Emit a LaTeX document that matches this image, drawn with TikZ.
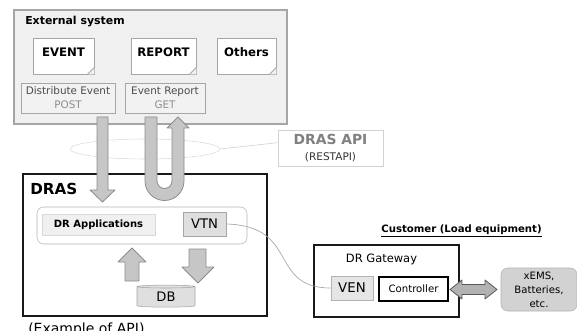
\documentclass[tikz,border=0pt]{standalone}
\usepackage{fontspec}
\setmainfont{DejaVu Sans}
\usetikzlibrary{shapes.geometric}

\tikzset{
  box/.style={draw, rectangle, inner sep=0pt, align=center},
  paper/.style={box, draw=gray!70, fill=white, text depth=6pt, font=\bfseries\fontsize{8.8}{10.5}\selectfont},
  apibox/.style={box, fill=gray!10, draw=gray!70, minimum height=22.5pt, font=\fontsize{7.8}{10.5}\selectfont},
  fatarrow/.style={fill=gray!45, draw=gray!90, line width=0.6pt, line join=round},
  frame/.style={box, draw=black!90, line width=1.5pt},
}

\begin{document}
\begin{tikzpicture}[x=0.75pt, y=-0.75pt]
    \useasboundingbox (0,0) rectangle (577,331);
    % External system
    \node[box, draw=gray!70, fill=gray!12, line width=1.5pt, minimum width=204.75pt, minimum height=85.5pt] (ext) at (150.5,67) {};
    \node[anchor=west, inner sep=0pt, font=\bfseries\fontsize{8.2}{10}\selectfont] (extlabel) at (25,22) {External system};
    \node[paper, minimum width=45.75pt, minimum height=27pt] (event) at (63.5,56) {EVENT};
    \node[paper, minimum width=48.75pt, minimum height=27pt] (report) at (163.5,56) {REPORT};
    \node[paper, minimum width=44.25pt, minimum height=27pt] (others) at (246.5,56) {Others};
    \foreach \n in {event,report,others} {
        \fill[gray!12] (\n.south east) -- ([yshift=5pt]\n.south east) -- ([xshift=-5pt]\n.south east) -- cycle;
        \draw[gray!70] ([yshift=5pt]\n.south east) -- ([xshift=-5pt]\n.south east);
        \draw[gray!70] ([yshift=5pt]\n.south east) -- ([xshift=-3.5pt,yshift=1.5pt]\n.south east) -- ([xshift=-5pt]\n.south east);
    }
    \node[apibox, minimum width=70.5pt] (post) at (68,98) {\textcolor{black!70}{Distribute Event}\\\textcolor{black!45}{POST}};
    \node[apibox, minimum width=60pt] (get) at (165,98) {\textcolor{black!70}{Event Report}\\\textcolor{black!45}{GET}};
    % DRAS API
    \node[ellipse, draw=gray!30, minimum width=112.5pt, minimum height=15pt, inner sep=0pt] (ring) at (145,149) {};
    \node[box, draw=gray!35, fill=white, minimum width=78.75pt, minimum height=27pt] (api) at (330.5,148)
        {{\bfseries\fontsize{10.4}{11.25}\selectfont\textcolor{black!50}{DRAS API}}\\{\fontsize{7.9}{11.25}\selectfont\textcolor{black!80}{(RESTAPI)}}};
    \draw[gray!40] (ring.east) -- ([yshift=4pt]api.west);
    % DRAS
    \node[frame, minimum width=183pt, minimum height=106.5pt] (dras) at (145,245) {};
    \node[anchor=west, inner sep=0pt, font=\bfseries\fontsize{11.4}{13}\selectfont] (draslabel) at (30,189) {DRAS};
    \node[box, draw=gray!60, rounded corners=5pt, minimum width=157.5pt, minimum height=27.75pt] (core) at (142,225.5) {};
    \node[box, fill=gray!12, draw=gray!30, minimum width=84.75pt, minimum height=15.75pt, font=\bfseries\fontsize{7.5}{9}\selectfont] (apps) at (98.5,224.5) {DR Applications};
    \node[box, fill=gray!25, draw=gray!70, minimum width=32.25pt, minimum height=18pt, font=\fontsize{9.9}{11}\selectfont] (vtn) at (204.5,224) {VTN};
    \node[cylinder, shape border rotate=90, aspect=0.15, draw=gray!70, fill=gray!25, minimum width=43.5pt, minimum height=16.5pt, inner sep=0pt, font=\fontsize{9.8}{11}\selectfont] (db) at (166,297) {DB};
    % Fat arrows
    \draw[fatarrow] (97,117) -- (97,190) -- (90,190) -- (102.5,202) -- (115,190) -- (108,190) -- (108,117) -- cycle;
    \draw[fatarrow] (145,117) -- (145,181) arc[start angle=180, end angle=0, radius=19.5] -- (184,128) -- (189,128) -- (178,117)
        -- (167,128) -- (172,128) -- (172,181) arc[start angle=0, end angle=180, radius=7.5] -- (157,117) -- cycle;
    \draw[fatarrow] (125,281) -- (125,262) -- (118,262) -- (132,248) -- (146,262) -- (139,262) -- (139,281) -- cycle;
    \draw[fatarrow] (189,249) -- (189,267) -- (182,267) -- (198,283) -- (214,267) -- (206,267) -- (206,249) -- cycle;
    % Customer
    \node[font=\bfseries\fontsize{7.6}{9}\selectfont, inner sep=0pt] (custlabel) at (461.5,231) {\underline{Customer (Load equipment)}};
    \node[frame, minimum width=108.75pt, minimum height=54pt] (gateway) at (386.5,281) {};
    \node[font=\fontsize{8.6}{10}\selectfont, inner sep=0pt] (gwlabel) at (381.5,259) {DR Gateway};
    \node[box, fill=gray!20, draw=gray!60, minimum width=31.5pt, minimum height=18pt, font=\fontsize{10}{11}\selectfont] (ven) at (352,288) {VEN};
    \node[box, fill=white, draw=black, line width=0.9pt, minimum width=51.75pt, minimum height=18pt, font=\fontsize{7.6}{9}\selectfont] (ctrl) at (413.5,289) {Controller};
    \node[box, fill=gray!35, draw=gray!60, rounded corners=5pt, minimum width=57pt, minimum height=32.25pt, font=\fontsize{7.6}{10.5}\selectfont] (xems) at (539,289.5) {xEMS,\\Batteries,\\etc.};
    \draw[fill=gray!60, draw=gray!70!black, line width=0.6pt, line join=round] (450,289.5) -- (462,280) -- (462,284.5) -- (485,284.5) -- (485,280) -- (497,289.5)
        -- (485,299) -- (485,294.5) -- (462,294.5) -- (462,299) -- cycle;
    % Link
    \draw[gray!70, line width=0.5pt] (vtn.east) .. controls (300,226) and (268,288) .. (ven.west);
    \node[anchor=base west, inner sep=0pt, font=\fontsize{10.5}{12}\selectfont] (note) at (28,333) {(Example of API)};
\end{tikzpicture}
\end{document}
